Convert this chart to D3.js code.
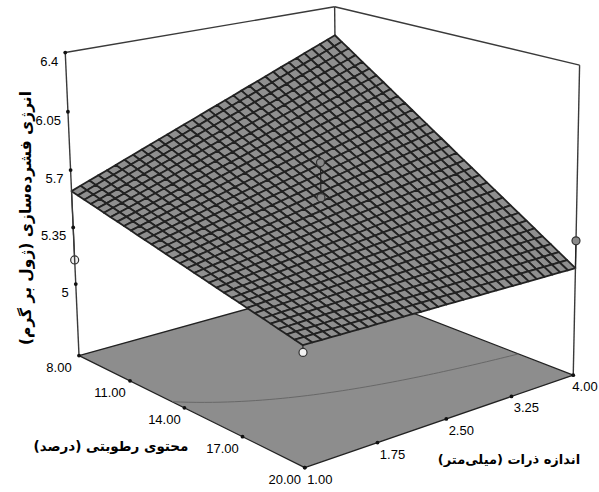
<!DOCTYPE html>
<html>
<head>
<meta charset="utf-8">
<script src="https://cdn.jsdelivr.net/npm/d3@7"></script>
<style>
  body { margin: 0; background: #fff; }
  svg text { font-family: "Liberation Sans", Arial, sans-serif; }
  .fa { font-family: "DejaVu Sans", sans-serif; font-weight: bold; }
</style>
</head>
<body>
<div id="chart"></div>
<script>
// axis ticks
const moistureTicks = [8, 11, 14, 17, 20];
const sizeTicks = [1, 1.75, 2.5, 3.25, 4];
const energyTicks = [5, 5.35, 5.7, 6.05, 6.4];
const energyRange = [4.55, 6.4];

// fitted model in coded units: intercept, A, B, AB
const modelCoef = [5.556, -0.338, 0.155, -0.167];

// design points (moisture %, particle size mm, energy J/g)
const designMoisture = [8, 20, 20, 14, 14, 8];
const designSize = [1, 4, 1, 2.5, 2.5, 4];
const designEnergy = [5.15, 5.37, 5.19, 5.79, 5.58, 6.15];

const contourLevels = [5.42];
const gridSteps = 32;

const titleA = 'محتوی رطوبتی (درصد)';
const titleB = 'اندازه ذرات (میلی\u200cمتر)';
const titleZ = 'انرژی فشرده\u200cسازی (ژول بر گرم)';

const width = 599, height = 492;

// scales to the box (world units)
const xS = d3.scaleLinear().domain([8, 20]).range([-1, 1]);
const yS = d3.scaleLinear().domain([1, 4]).range([-0.916, 0.916]);
const zS = d3.scaleLinear().domain(energyRange).range([-0.853, 0.853]);
// coded units for the model
const cA = d3.scaleLinear().domain(xS.domain()).range([-1, 1]);
const cB = d3.scaleLinear().domain(yS.domain()).range([-1, 1]);
const gA = d3.scaleLinear().domain([0, gridSteps]).range(xS.domain());
const gB = d3.scaleLinear().domain([0, gridSteps]).range(yS.domain());

// perspective camera
const cam = { pos: [8.442, -6.716, 3.3225], yaw: 138.7, pitch: 15.35, focal: 2117, cx: 420, cy: 149 };
const yaw = cam.yaw * Math.PI / 180, pitch = cam.pitch * Math.PI / 180;
const fwd = [Math.cos(pitch) * Math.cos(yaw), Math.cos(pitch) * Math.sin(yaw), -Math.sin(pitch)];
const rgt = [fwd[1] / Math.cos(pitch), -fwd[0] / Math.cos(pitch), 0];
const dwn = [-fwd[2] * rgt[1], fwd[2] * rgt[0], fwd[0] * rgt[1] - fwd[1] * rgt[0]];
const dot = (a, b) => a[0] * b[0] + a[1] * b[1] + a[2] * b[2];

function project(p) {
  const d = [p[0] - cam.pos[0], p[1] - cam.pos[1], p[2] - cam.pos[2]];
  const zc = dot(d, fwd);
  return [cam.cx + cam.focal * dot(d, rgt) / zc, cam.cy + cam.focal * dot(d, dwn) / zc, zc];
}
const P = (a, b, e) => project([xS(a), yS(b), zS(e)]);

function model(a, b) {
  const xa = cA(a), xb = cB(b);
  return modelCoef[0] + modelCoef[1] * xa + modelCoef[2] * xb + modelCoef[3] * xa * xb;
}

const [aMin, aMax] = xS.domain(), [bMin, bMax] = yS.domain(), [eMin, eMax] = energyRange;
const pts = arr => arr.map(p => p[0] + ',' + p[1]).join(' ');

const svg = d3.select('#chart').append('svg')
  .attr('width', width)
  .attr('height', height);

const edge = (g, p, q) => g.append('line')
  .attr('x1', p[0]).attr('y1', p[1]).attr('x2', q[0]).attr('y2', q[1])
  .attr('stroke', '#3a3a3a').attr('stroke-width', 1.4);

// back vertical and top edges
const back = svg.append('g');
edge(back, P(aMin, bMax, eMin), P(aMin, bMax, eMax));
edge(back, P(aMin, bMin, eMax), P(aMin, bMax, eMax));
edge(back, P(aMin, bMax, eMax), P(aMax, bMax, eMax));

// floor
svg.append('polygon')
  .attr('points', pts([P(aMin, bMin, eMin), P(aMax, bMin, eMin), P(aMax, bMax, eMin), P(aMin, bMax, eMin)]))
  .attr('fill', '#8d8d8d')
  .attr('stroke', '#222')
  .attr('stroke-width', 1.3)
  .attr('stroke-linejoin', 'round');

// contour on the floor
const line = d3.line();
contourLevels.forEach(c => {
  const cp = [];
  d3.range(0, 61).forEach(k => {
    const xb = -1 + k / 30;
    const xa = (c - modelCoef[0] - modelCoef[2] * xb) / (modelCoef[1] + modelCoef[3] * xb);
    if (xa >= -1 && xa <= 1) {
      const p = P(cA.invert(xa), cB.invert(xb), eMin);
      cp.push([p[0], p[1]]);
    }
  });
  svg.append('path')
    .attr('d', line(cp))
    .attr('fill', 'none')
    .attr('stroke', '#686868')
    .attr('stroke-width', 1);
});

// design points
const design = designMoisture.map((m, i) => {
  const s = designSize[i], e = designEnergy[i];
  return { p: P(m, s, e), q: P(m, s, model(m, s)), above: e > model(m, s) };
});

function drawPoints(list) {
  const g = svg.append('g');
  g.selectAll('line').data(list).enter().append('line')
    .attr('x1', d => d.p[0]).attr('y1', d => d.p[1])
    .attr('x2', d => d.q[0]).attr('y2', d => d.q[1])
    .attr('stroke', '#222').attr('stroke-width', 1.2);
  g.selectAll('circle').data(list).enter().append('circle')
    .attr('cx', d => d.p[0]).attr('cy', d => d.p[1])
    .attr('r', 4)
    .attr('fill', d => d.above ? '#8a8a8a' : '#f2f2f2')
    .attr('stroke', '#333').attr('stroke-width', 1.2);
}
drawPoints(design.filter(d => !d.above));

// surface mesh
const cells = [];
for (let i = 0; i < gridSteps; i++) {
  for (let j = 0; j < gridSteps; j++) {
    const a0 = gA(i), a1 = gA(i + 1), b0 = gB(j), b1 = gB(j + 1);
    const c = [[a0, b0], [a1, b0], [a1, b1], [a0, b1]].map(([a, b]) => P(a, b, model(a, b)));
    cells.push({ c, depth: d3.mean(c, p => p[2]) });
  }
}
cells.sort((p, q) => q.depth - p.depth);
svg.append('g').selectAll('polygon').data(cells).enter().append('polygon')
  .attr('points', d => pts(d.c))
  .attr('fill', '#8f8f8f')
  .attr('stroke', '#222')
  .attr('stroke-width', 1.8)
  .attr('stroke-linejoin', 'round');

// front verticals
const front = svg.append('g');
edge(front, P(aMin, bMin, eMin), P(aMin, bMin, eMax));
edge(front, P(aMax, bMax, eMin), P(aMax, bMax, eMax));

drawPoints(design.filter(d => d.above));

// tick dots and labels
const ticks = svg.append('g');
function tickDots(list) {
  ticks.selectAll(null).data(list).enter().append('circle')
    .attr('cx', d => d[0]).attr('cy', d => d[1])
    .attr('r', 1.9).attr('fill', '#111');
}
const zTickPos = energyTicks.map(e => P(aMin, bMin, e));
const aTickPos = moistureTicks.map(m => P(m, bMin, eMin));
const bTickPos = sizeTicks.map(s => P(aMax, s, eMin));
tickDots(zTickPos.concat(aTickPos, bTickPos));

ticks.selectAll(null).data(energyTicks).enter().append('text')
  .attr('x', (d, i) => zTickPos[i][0] - 7)
  .attr('y', (d, i) => zTickPos[i][1] + 13)
  .attr('text-anchor', 'end')
  .style('font-size', '13px')
  .text(d => d);

ticks.selectAll(null).data(moistureTicks).enter().append('text')
  .attr('x', (d, i) => aTickPos[i][0] - 20)
  .attr('y', (d, i) => aTickPos[i][1] + 16)
  .attr('text-anchor', 'middle')
  .style('font-size', '13px')
  .text(d => d.toFixed(2));

// keep the last label inside the frame
ticks.selectAll(null).data(sizeTicks).enter().append('text')
  .attr('x', (d, i) => Math.min(bTickPos[i][0] + 15, width - 14))
  .attr('y', (d, i) => bTickPos[i][1] + 16)
  .attr('text-anchor', 'middle')
  .style('font-size', '13px')
  .text(d => d.toFixed(2));

// axis titles
svg.append('text').attr('class', 'fa')
  .attr('direction', 'rtl')
  .attr('x', 111).attr('y', 451)
  .attr('text-anchor', 'middle')
  .style('font-size', '13.5px')
  .text(titleA);

svg.append('text').attr('class', 'fa')
  .attr('direction', 'rtl')
  .attr('x', 509).attr('y', 464)
  .attr('text-anchor', 'middle')
  .style('font-size', '13px')
  .text(titleB);

svg.append('text').attr('class', 'fa')
  .attr('direction', 'rtl')
  .attr('transform', 'translate(31,218) rotate(-90)')
  .attr('text-anchor', 'middle')
  .style('font-size', '15.5px')
  .text(titleZ);
</script>
</body>
</html>
